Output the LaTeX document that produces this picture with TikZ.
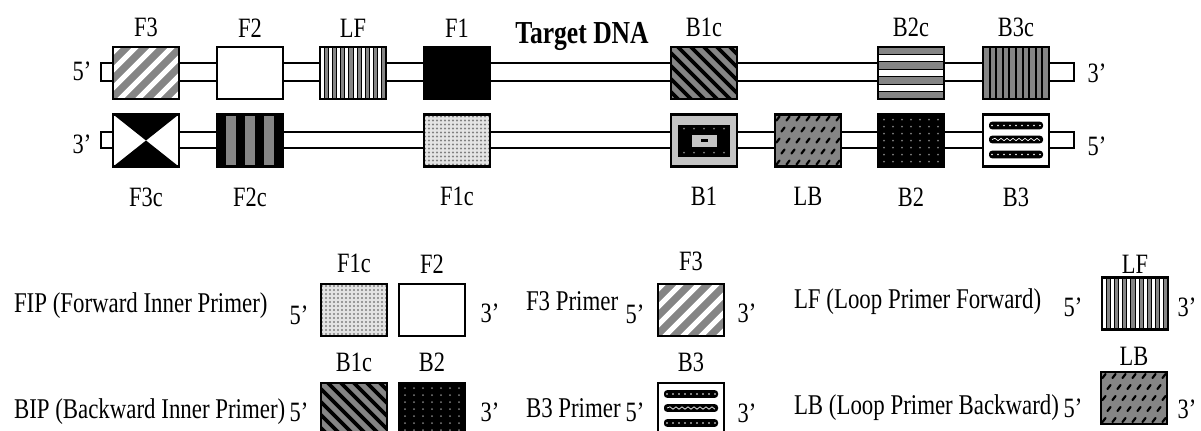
\documentclass[tikz,border=0pt]{standalone}
\usepackage{fontspec}
\setmainfont{Liberation Serif}[FakeStretch=0.8]
\usetikzlibrary{positioning, calc}
\definecolor{cgrey}{HTML}{858585}
\definecolor{clight}{HTML}{C4C4C4}
\definecolor{cpale}{HTML}{E4E4E4}
\tikzset{
  every picture/.style={x=0.5pt, y=-0.5pt, line width=1pt},
  box/.style={draw=black, fill=white, line width=1.2pt, minimum width=33pt, minimum height=26pt, inner sep=0pt, outer sep=0pt},
  inbox/.style={shift={(path picture bounding box.center)}},
  strand/.style={draw=black, fill=white, line width=1pt},
  lbl/.style={font=\fontsize{14}{16}\selectfont, inner sep=0pt},
  tag/.style={font=\fontsize{14}{16}\selectfont, inner sep=0pt, anchor=base},
  txt/.style={font=\fontsize{14.3}{17}\selectfont, inner sep=0pt, anchor=base west},
  title/.style={font=\fontsize{16}{19}\selectfont\bfseries, inner sep=0pt, anchor=base},
  % one look per primer region
  pf3/.style={box, fill=cgrey, path picture={\begin{scope}[inbox]
      \foreach \k in {-5,...,5} \draw[white, line width=2.6pt] (\k*18-35,35) -- ++(70,-70);
    \end{scope}}},
  pf2/.style={box},
  plf/.style={box, path picture={\begin{scope}[inbox]
      \foreach \m in {0,...,7} \fill[cgrey] (-33+\m*8.25+4.125,-30) rectangle ++(4.125,60);
      \foreach \k in {1,...,15} \draw[black, line width=0.5pt] (-33+\k*4.125,-30) -- ++(0,60);
    \end{scope}}},
  pf1/.style={box, fill=black},
  pb1c/.style={box, fill=cgrey, path picture={\begin{scope}[inbox]
      \foreach \k in {-6,...,6} \draw[black, line width=1.8pt] (\k*13-35,-35) -- ++(70,70);
    \end{scope}}},
  pb2c/.style={box, path picture={\begin{scope}[inbox]
      \foreach \m in {0,...,3} \fill[cgrey] (-35,-26+\m*14.86) rectangle ++(70,7.43);
      \foreach \k in {1,...,6} \draw[black, line width=0.5pt] (-35,-26+\k*7.43) -- ++(70,0);
    \end{scope}}},
  pb3c/.style={box, fill=cgrey, path picture={\begin{scope}[inbox]
      \foreach \k in {1,...,9} \draw[black, line width=1pt] (-33+\k*6.6,-30) -- ++(0,60);
    \end{scope}}},
  pf3c/.style={box, path picture={\begin{scope}[inbox]
      \fill[black] (-34,-27) -- (34,-27) -- (0,0) -- cycle;
      \fill[black] (-34,27) -- (34,27) -- (0,0) -- cycle;
    \end{scope}}},
  pf2c/.style={box, fill=cgrey, path picture={\begin{scope}[inbox]
      \foreach \m in {0,...,3} \fill[black] (-33+\m*18.86,-30) rectangle ++(9.43,60);
    \end{scope}}},
  pf1c/.style={box, fill=cpale, path picture={\begin{scope}[inbox]
      \foreach \i in {-8,...,8} \foreach \j in {-6,...,6} \fill[gray] (\i*4,\j*4) circle (0.55pt);
    \end{scope}}},
  pb1/.style={box, fill=clight, path picture={\begin{scope}[inbox]
      \fill[black] (-26,-16) rectangle (26,16);
      \foreach \i in {-20,-10,...,20} \fill[gray] (\i,-12) circle (0.5pt) (\i,12) circle (0.5pt);
      \fill[clight] (-12,-6) rectangle (13,6);
      \fill[black] (-3,-1.7) rectangle (4,1.7);
    \end{scope}}},
  plb/.style={box, fill=cgrey, path picture={\begin{scope}[inbox]
      \foreach \i in {-30,-20,...,30} \foreach \j in {-22,0,22} \draw[black, line width=1.1pt, line cap=round] (\i-1.5,\j+2) -- ++(3,-4);
      \foreach \i in {-25,-15,...,25} \foreach \j in {-11,11} \draw[black, line width=1.1pt, line cap=round] (\i-1.5,\j+2) -- ++(3,-4);
    \end{scope}}},
  pb2/.style={box, fill=black, path picture={\begin{scope}[inbox]
      \foreach \i in {-27,-18,...,27} \foreach \j in {-21,-14,...,21} \fill[gray] (\i,\j) circle (0.5pt);
    \end{scope}}},
  pb3/.style={box, path picture={\begin{scope}[inbox]
      \foreach \y in {-15,14} {
        \fill[black, rounded corners=1.5pt] (-27,\y-3.8) rectangle (27,\y+3.8);
        \foreach \i in {-24,-18,...,24} \fill[white] (\i,\y) circle (0.45pt);
      }
      \fill[black, rounded corners=1.5pt] (-27,-4.8) rectangle (27,2.8);
      \draw[white, line width=0.35pt] (-24,-1) \foreach \i in {1,...,16} { -- (-24+\i*3,{-1+1.2*cos(180*\i)}) };
    \end{scope}}},
}

\begin{document}
\begin{tikzpicture}
  \clip (0,0) rectangle (1201,430);
  % target DNA, two strands
  \draw[strand] (101,63) rectangle (1074,81);
  \draw[strand] (101,132) rectangle (1074,148);
  \node[title] (tdna) at (582,43) {Target DNA};
  \node[tag] (top5) at (82,80) {5’};
  \node[tag] (top3) at (1097,82) {3’};
  \node[tag] (bot3) at (82,153) {3’};
  \node[tag] (bot5) at (1097,155) {5’};

  \node[pf3] (f3) at (146,73) {};
  \node[pf2] (f2) at (250,73) {};
  \node[plf] (lf) at (353,73) {};
  \node[pf1] (f1) at (457,73) {};
  \node[pb1c] (b1c) at (704,73) {};
  \node[pb2c] (b2c) at (911,73) {};
  \node[pb3c] (b3c) at (1016,73) {};
  \foreach \n/\t in {f3/F3, f2/F2, lf/LF, f1/F1, b1c/B1c, b2c/B2c, b3c/B3c}
    \node[lbl, above=4.5pt of \n] (\n-t) {\t};

  \node[pf3c] (f3c) at (146,140.5) {};
  \node[pf2c] (f2c) at (250,140.5) {};
  \node[pf1c] (f1c) at (457,140.5) {};
  \node[pb1] (b1) at (704,140.5) {};
  \node[plb] (lb) at (808,140.5) {};
  \node[pb2] (b2) at (911,140.5) {};
  \node[pb3] (b3) at (1016,140.5) {};
  \foreach \n/\t in {f3c/F3c, f2c/F2c, f1c/F1c, b1/B1, lb/LB, b2/B2, b3/B3}
    \node[lbl, below=10pt of \n] (\n-t) {\t};

  % primer key
  \node[txt] (fip) at (13,312) {FIP (Forward Inner Primer)};
  \node[txt] (bip) at (13,418) {BIP (Backward Inner Primer)};
  \node[txt] (f3p) at (525,310) {F3 Primer};
  \node[txt] (b3p) at (525,417) {B3 Primer};
  \node[txt] (lfp) at (793,308) {LF (Loop Primer Forward)};
  \node[txt] (lbp) at (793,414) {LB (Loop Primer Backward)};

  \node[pf1c] (kf1c) at (354,310) {};
  \node[pf2] (kf2) at (432,310) {};
  \node[pb1c] (kb1c) at (354,409) {};
  \node[pb2] (kb2) at (432,409) {};
  \node[pf3] (kf3) at (691,310) {};
  \node[pb3] (kb3) at (691,409) {};
  \node[plf] (klf) at (1135,303.5) {};
  \node[plb] (klb) at (1134,398) {};
  \foreach \n/\t/\d in {kf1c/F1c/5pt, kf2/F2/5pt, kb1c/B1c/5pt, kb2/B2/5pt, kf3/F3/6pt, kb3/B3/5pt, klf/LF/1.5pt, klb/LB/2.5pt}
    \node[lbl, above=\d of \n] (\n-t) {\t};

  \foreach \n/\x/\y/\t in {k5a/299/324/5’, k3a/490/322/3’, k5b/635/323/5’, k3b/747/322/3’, k5c/1073/316/5’, k3c/1187/316/3’,
      k5d/299/421/5’, k3d/490/421/3’, k5e/635/421/5’, k3e/747/422/3’, k5f/1073/417/5’, k3f/1187/418/3’}
    \node[tag] (\n) at (\x,\y) {\t};
\end{tikzpicture}
\end{document}
